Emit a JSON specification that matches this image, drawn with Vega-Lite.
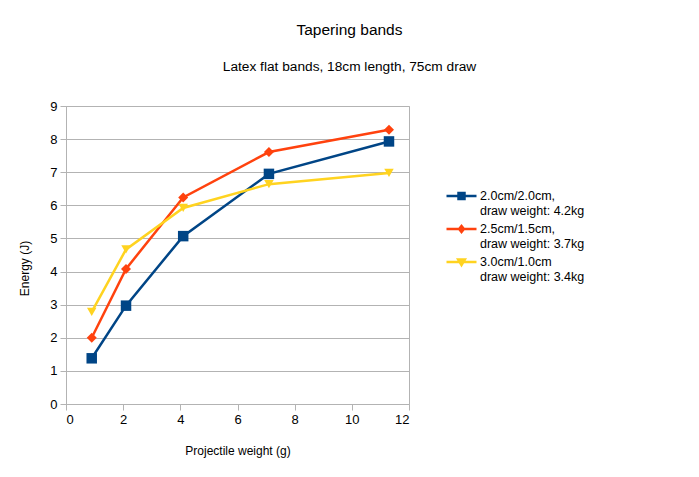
{
  "$schema": "https://vega.github.io/schema/vega-lite/v6.json",
  "width": 343,
  "height": 298,
  "autosize": {"type": "none"},
  "padding": {"left": 66, "top": 106, "right": 290, "bottom": 73},
  "background": "white",
  "title": {
    "text": "Tapering bands",
    "subtitle": "Latex flat bands, 18cm length, 75cm draw",
    "fontSize": 15.5,
    "fontWeight": "normal",
    "subtitleFontSize": 13.7,
    "color": "black",
    "subtitleColor": "black",
    "anchor": "middle",
    "dx": 112,
    "offset": 26,
    "subtitlePadding": 22
  },
  "data": {
    "values": [
      {"series": "2.0cm/2.0cm,|draw weight: 4.2kg", "weight": 0.9, "energy": 1.38},
      {"series": "2.0cm/2.0cm,|draw weight: 4.2kg", "weight": 2.1, "energy": 2.97},
      {"series": "2.0cm/2.0cm,|draw weight: 4.2kg", "weight": 4.1, "energy": 5.07},
      {"series": "2.0cm/2.0cm,|draw weight: 4.2kg", "weight": 7.1, "energy": 6.95},
      {"series": "2.0cm/2.0cm,|draw weight: 4.2kg", "weight": 11.3, "energy": 7.93},
      {"series": "2.5cm/1.5cm,|draw weight: 3.7kg", "weight": 0.9, "energy": 2.0},
      {"series": "2.5cm/1.5cm,|draw weight: 3.7kg", "weight": 2.1, "energy": 4.08},
      {"series": "2.5cm/1.5cm,|draw weight: 3.7kg", "weight": 4.1, "energy": 6.24},
      {"series": "2.5cm/1.5cm,|draw weight: 3.7kg", "weight": 7.1, "energy": 7.61},
      {"series": "2.5cm/1.5cm,|draw weight: 3.7kg", "weight": 11.3, "energy": 8.28},
      {"series": "3.0cm/1.0cm|draw weight: 3.4kg", "weight": 0.9, "energy": 2.78},
      {"series": "3.0cm/1.0cm|draw weight: 3.4kg", "weight": 2.1, "energy": 4.67},
      {"series": "3.0cm/1.0cm|draw weight: 3.4kg", "weight": 4.1, "energy": 5.92},
      {"series": "3.0cm/1.0cm|draw weight: 3.4kg", "weight": 7.1, "energy": 6.64},
      {"series": "3.0cm/1.0cm|draw weight: 3.4kg", "weight": 11.3, "energy": 6.98}
    ]
  },
  "encoding": {
    "x": {
      "field": "weight",
      "type": "quantitative",
      "title": "Projectile weight (g)",
      "scale": {"domain": [0, 12], "nice": false},
      "axis": {"values": [0, 2, 4, 6, 8, 10, 12], "grid": false, "titlePadding": 19}
    },
    "y": {
      "field": "energy",
      "type": "quantitative",
      "title": "Energy (J)",
      "scale": {"domain": [0, 9], "nice": false},
      "axis": {"values": [0, 1, 2, 3, 4, 5, 6, 7, 8, 9], "grid": true, "titlePadding": 18, "titleY": 162}
    },
    "color": {
      "field": "series",
      "type": "nominal",
      "scale": {
        "domain": ["2.0cm/2.0cm,|draw weight: 4.2kg", "2.5cm/1.5cm,|draw weight: 3.7kg", "3.0cm/1.0cm|draw weight: 3.4kg"],
        "range": ["#004586", "#ff420e", "#ffd320"]
      }
    }
  },
  "layer": [
    {
      "mark": {"type": "line", "strokeWidth": 2.5},
      "encoding": {
        "color": {
          "field": "series",
          "type": "nominal",
          "legend": {
            "title": null,
            "orient": "none",
            "legendX": 379,
            "legendY": 81,
            "labelExpr": "split(datum.label, '|')",
            "labelFontSize": 12.5,
            "labelColor": "black",
            "labelLimit": 300,
            "labelOffset": 17,
            "labelBaseline": "middle",
            "symbolSize": 225,
            "rowPadding": 3,
            "encode": {
              "symbols": {
                "update": {
                  "shape": {"signal": "indexof(datum.value, '2.0cm') == 0 ? 'M-1,0H3M0.6,-0.4H1.4V0.4H0.6Z' : indexof(datum.value, '2.5cm') == 0 ? 'M-1,0H3M0.68,0L1,-0.4L1.32,0L1,0.4Z' : 'M-1,0H3M0.56,-0.32H1.44L1,0.4Z'"},
                  "stroke": {"scale": "color", "field": "value"},
                  "fill": {"scale": "color", "field": "value"},
                  "strokeWidth": {"value": 2.5},
                  "opacity": {"value": 1}
                }
              }
            }
          }
        }
      }
    },
    {
      "mark": {"type": "point", "filled": true, "opacity": 1},
      "encoding": {
        "shape": {
          "field": "series",
          "type": "nominal",
          "scale": {"range": ["square", "diamond", "triangle-down"]},
          "legend": null
        },
        "size": {
          "field": "series",
          "type": "nominal",
          "scale": {"range": [110, 90, 110]},
          "legend": null
        }
      }
    }
  ],
  "config": {
    "font": "Liberation Sans",
    "view": {"stroke": "#b3b3b3", "strokeWidth": 1},
    "axis": {
      "domainColor": "#b3b3b3",
      "tickColor": "#b3b3b3",
      "gridColor": "#b3b3b3",
      "gridOpacity": 1,
      "tickSize": 6,
      "labelFontSize": 13,
      "labelColor": "black",
      "labelPadding": 3,
      "titleFontSize": 12,
      "titleFontWeight": "normal",
      "titleColor": "black"
    }
  }
}
